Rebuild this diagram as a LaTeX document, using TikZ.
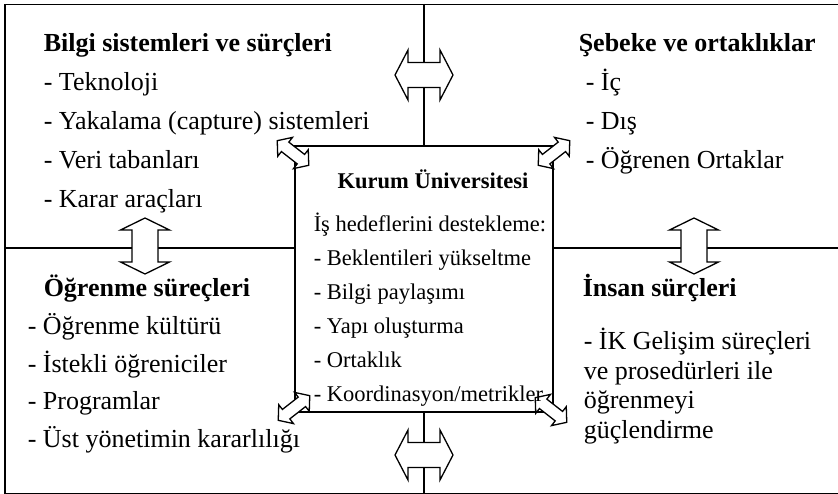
\documentclass[tikz,border=0pt]{standalone}
\usepackage{fontspec}
\setmainfont{Liberation Serif}
\usepackage{tikz}
\usetikzlibrary{positioning}

% hollow block arrow with two heads: half length, half head width, half shaft width, head length
\tikzset{
    pics/dblarrow/.style n args = {4}{code = {
        \draw[fill = white, line width = 1.3pt]
            (-#1,0) -- (-#1+#4,-#2) -- (-#1+#4,-#3) -- (#1-#4,-#3) -- (#1-#4,-#2) -- (#1,0)
            -- (#1-#4,#2) -- (#1-#4,#3) -- (-#1+#4,#3) -- (-#1+#4,#2) -- cycle;
    }}
}

\begin{document}
\begin{tikzpicture}[
            x = 1pt, y = -1pt, % pixel grid, y runs down
            node distance = 12pt and 0pt, % gap between list lines
            line width = 1.5pt
            ]

        \tikzstyle{head}=[
            font = \bfseries\fontsize{26}{30}\selectfont,
            inner sep = 0pt,
            text height = 19pt,
            text depth = 6.5pt
        ]
        \tikzstyle{item}=[head, font = \fontsize{26}{30}\selectfont]
        \tikzstyle{cbold}=[
            font = \bfseries\fontsize{22.5}{26}\selectfont,
            inner sep = 0pt,
            text height = 16.5pt,
            text depth = 5.5pt
        ]
        \tikzstyle{citem}=[cbold, font = \fontsize{22.5}{26}\selectfont]

    \useasboundingbox (0,0) rectangle (838,494);

	% frame and quarters
	\node[draw, minimum width = 836pt, minimum height = 489pt, inner sep = 0pt, anchor = north west] (frame) at (4,4) {};
	\node[draw, minimum width = 258pt, minimum height = 266pt, inner sep = 0pt] (kurum) at (424,279) {};
	\coordinate (mid) at (424,248);
	\draw (frame.north -| mid) -- (kurum.north);
	\draw (kurum.south) -- (frame.south -| mid);
	\draw (frame.west |- mid) -- (kurum.west |- mid);
	\draw (kurum.east |- mid) -- (frame.east |- mid);

	% arrows between the parts
	\pic (aTop) at (424,75) {dblarrow={29}{25}{12.5}{13}};
	\pic (aBot) at (424,455) {dblarrow={29}{25}{12.5}{13}};
	\pic[rotate = 90] (aLeft) at (145,246) {dblarrow={28}{24.5}{13}{12}};
	\pic[rotate = 90] (aRight) at (694,246) {dblarrow={28}{24.5}{13}{12}};
	\pic[rotate = -38] (aNW) at (293,153) {dblarrow={20}{12}{6}{10}};
	\pic[rotate = 38] (aNE) at (554,153) {dblarrow={20}{12}{6}{10}};
	\pic[rotate = 38] (aSW) at (294,408) {dblarrow={20}{12}{6}{10}};
	\pic[rotate = -38] (aSE) at (551,410) {dblarrow={20}{12}{6}{10}};

	% top left
	\node[head, anchor = base west] (bilgi) at (43,52) {Bilgi sistemleri ve sürçleri};
	\node[item, below right = of bilgi.south west] (tekno) {- Teknoloji};
	\node[item, below right = of tekno.south west] (yakalama) {- Yakalama (capture) sistemleri};
	\node[item, below right = of yakalama.south west] (veri) {- Veri tabanları};
	\node[item, below right = of veri.south west] (karar) {- Karar araçları};

	% top right
	\node[head, anchor = base west] (sebeke) at (578,52) {Şebeke ve ortaklıklar};
	\node[item, below right = 12pt and 7pt of sebeke.south west] (ic) {- İç};
	\node[item, below right = of ic.south west] (dis) {- Dış};
	\node[item, below right = of dis.south west] (ortak) {- Öğrenen Ortaklar};

	% bottom left
	\node[head, anchor = base west] (ogrenme) at (43,297) {Öğrenme süreçleri};
	\node[item, below right = 10.5pt and -16pt of ogrenme.south west] (kultur) {- Öğrenme kültürü};
	\node[item, below right = 10.5pt and 0pt of kultur.south west] (istekli) {- İstekli öğreniciler};
	\node[item, below right = 10.5pt and 0pt of istekli.south west] (program) {- Programlar};
	\node[item, below right = 10.5pt and 0pt of program.south west] (ust) {- Üst yönetimin kararlılığı};

	% bottom right
	\node[head, anchor = base west] (insan) at (582,297) {İnsan sürçleri};
	\node[item, below right = 25.5pt and 1pt of insan.south west] (ik) {- İK Gelişim süreçleri};
	\node[item, below right = 2.5pt and 0pt of ik.south west] (prosedur) {ve prosedürleri ile};
	\node[item, below right = 2.5pt and 0pt of prosedur.south west] (ogrenmeyi) {öğrenmeyi};
	\node[item, below right = 2.5pt and 0pt of ogrenmeyi.south west] (guclen) {güçlendirme};

	% centre
	\node[cbold, anchor = base] (baslik) at (433,189) {Kurum Üniversitesi};
	\node[citem, anchor = base west] (hedef) at (313,232) {İş hedeflerini destekleme:};
	\node[citem, below right = 10.4pt and 0pt of hedef.south west] (beklenti) {- Beklentileri yükseltme};
	\node[citem, below right = 10.4pt and 0pt of beklenti.south west] (paylasim) {- Bilgi paylaşımı};
	\node[citem, below right = 10.4pt and 0pt of paylasim.south west] (yapi) {- Yapı oluşturma};
	\node[citem, below right = 10.4pt and 0pt of yapi.south west] (ortaklik) {- Ortaklık};
	\node[citem, below right = 10.4pt and 0pt of ortaklik.south west] (koord) {- Koordinasyon/metrikler};

\end{tikzpicture}
\end{document}
